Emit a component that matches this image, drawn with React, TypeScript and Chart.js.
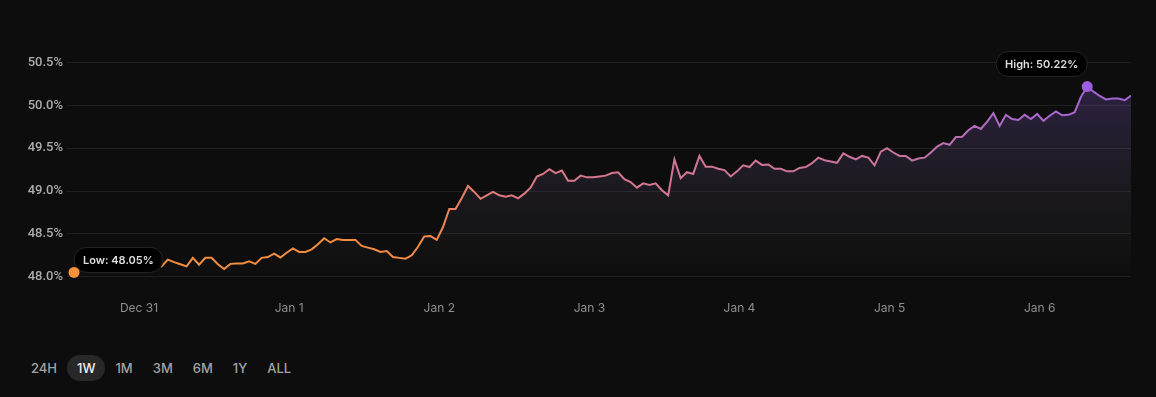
import React, { useEffect, useRef } from "react";
import { Chart, registerables } from "chart.js";

Chart.register(...registerables);

// hours relative to Dec 31 00:00 of the first (hourly) sample
const startHour = -10.4;

// hourly values, %
const values = [
  48.05, 48.09, 48.12, 48.11, 48.14, 48.13, 48.16, 48.12, 48.15, 48.13,
  48.17, 48.14, 48.12, 48.14, 48.12, 48.2, 48.17, 48.145, 48.12, 48.22,
  48.14, 48.22, 48.22, 48.145, 48.09, 48.15, 48.155, 48.155, 48.18, 48.15,
  48.22, 48.23, 48.27, 48.225, 48.28, 48.33, 48.29, 48.29, 48.32, 48.38,
  48.45, 48.4, 48.44, 48.43, 48.43, 48.43, 48.36, 48.34, 48.32, 48.29,
  48.3, 48.23, 48.22, 48.21, 48.25, 48.35, 48.47, 48.475, 48.43, 48.58,
  48.79, 48.79, 48.92, 49.06, 48.99, 48.91, 48.95, 48.99, 48.95, 48.935,
  48.95, 48.915, 48.97, 49.04, 49.17, 49.2, 49.255, 49.21, 49.24, 49.12,
  49.12, 49.18, 49.16, 49.16, 49.17, 49.18, 49.21, 49.22, 49.14, 49.105,
  49.04, 49.09, 49.07, 49.09, 49.01, 48.95, 49.37, 49.15, 49.22, 49.2,
  49.41, 49.285, 49.285, 49.26, 49.245, 49.17, 49.23, 49.3, 49.28, 49.355,
  49.305, 49.31, 49.26, 49.26, 49.23, 49.23, 49.27, 49.28, 49.325, 49.39,
  49.36, 49.345, 49.33, 49.44, 49.4, 49.37, 49.41, 49.39, 49.3, 49.46,
  49.5, 49.45, 49.41, 49.41, 49.355, 49.38, 49.39, 49.45, 49.52, 49.56,
  49.54, 49.63, 49.635, 49.71, 49.76, 49.725, 49.81, 49.91, 49.76, 49.89,
  49.84, 49.83, 49.89, 49.84, 49.9, 49.82, 49.88, 49.93, 49.885, 49.89,
  49.92, 50.1, 50.22, 50.16, 50.11, 50.07, 50.08, 50.08, 50.06, 50.115,
];

const dayTicks = [0, 24, 48, 72, 96, 120, 144];
const dayLabels = ["Dec 31", "Jan 1", "Jan 2", "Jan 3", "Jan 4", "Jan 5", "Jan 6"];
const yTicks = [48.0, 48.5, 49.0, 49.5, 50.0, 50.5];
const ranges = ["24H", "1W", "1M", "3M", "6M", "1Y", "ALL"];
const activeRange = "1W";

const FONT = "Inter, 'Noto Sans', sans-serif";
const YFONT = "Roboto, 'Noto Sans', sans-serif";

const markerPlugin = {
  id: "markers",
  afterDatasetsDraw(chart: any) {
    const ctx = chart.ctx;
    const meta = chart.getDatasetMeta(0);
    let minI = 0;
    let maxI = 0;
    values.forEach((v, i) => {
      if (v < values[minI]) minI = i;
      if (v > values[maxI]) maxI = i;
    });
    const pillFont = `600 11px ${FONT}`;
    const drawPill = (text: string, left: number, top: number, h: number) => {
      ctx.save();
      ctx.font = pillFont;
      const w = ctx.measureText(text).width + 18;
      const r = h / 2;
      ctx.beginPath();
      ctx.moveTo(left + r, top);
      ctx.lineTo(left + w - r, top);
      ctx.arc(left + w - r, top + r, r, -Math.PI / 2, Math.PI / 2);
      ctx.lineTo(left + r, top + h);
      ctx.arc(left + r, top + r, r, Math.PI / 2, (3 * Math.PI) / 2);
      ctx.closePath();
      ctx.fillStyle = "#000000";
      ctx.fill();
      ctx.strokeStyle = "#262626";
      ctx.lineWidth = 1;
      ctx.stroke();
      ctx.fillStyle = "#dedede";
      ctx.textAlign = "center";
      ctx.textBaseline = "middle";
      ctx.fillText(text, left + w / 2, top + h / 2 + 0.5);
      ctx.restore();
      return w;
    };
    const dot = (x: number, y: number, color: string) => {
      ctx.save();
      ctx.beginPath();
      ctx.arc(x, y, 5.5, 0, Math.PI * 2);
      ctx.fillStyle = color;
      ctx.fill();
      ctx.restore();
    };
    const lo = meta.data[minI];
    const hi = meta.data[maxI];
    const loText = `Low: ${values[minI].toFixed(2)}%`;
    const hiText = `High: ${values[maxI].toFixed(2)}%`;
    drawPill(loText, lo.x, lo.y - 25, 25);
    ctx.save();
    ctx.font = pillFont;
    const hw = ctx.measureText(hiText).width + 18;
    ctx.restore();
    drawPill(hiText, hi.x - hw, hi.y - 35, 25);
    dot(lo.x, lo.y, "#f7913a");
    dot(hi.x, hi.y, "#9d5de3");
  },
};

export default function App() {
  const ref = useRef<HTMLCanvasElement | null>(null);

  useEffect(() => {
    document.body.style.margin = "0";
    document.body.style.background = "#0d0d0d";
    const canvas = ref.current;
    if (!canvas) return;
    const points = values.map((v, i) => ({ x: startHour + i, y: v }));
    const chart = new Chart(canvas, {
      type: "line",
      data: {
        datasets: [
          {
            data: points,
            borderWidth: 2,
            pointRadius: 0,
            tension: 0,
            fill: "start",
            borderColor: (c: any) => {
              const { ctx, chartArea } = c.chart;
              if (!chartArea) return "#f5903a";
              const g = ctx.createLinearGradient(chartArea.left, 0, chartArea.right, 0);
              g.addColorStop(0, "#f5903a");
              g.addColorStop(0.33, "#f28a42");
              g.addColorStop(0.4, "#de7b7c");
              g.addColorStop(0.5, "#d6778e");
              g.addColorStop(0.78, "#c9749e");
              g.addColorStop(0.88, "#ae69c8");
              g.addColorStop(1, "#a364d6");
              return g;
            },
            backgroundColor: (c: any) => {
              const { ctx, chartArea } = c.chart;
              if (!chartArea) return "rgba(0,0,0,0)";
              const g = ctx.createLinearGradient(0, chartArea.top, 0, chartArea.bottom);
              g.addColorStop(0, "rgba(150,100,230,0.26)");
              g.addColorStop(0.2, "rgba(150,100,230,0.22)");
              g.addColorStop(0.55, "rgba(140,120,180,0.13)");
              g.addColorStop(0.9, "rgba(130,130,130,0.035)");
              g.addColorStop(1, "rgba(130,130,130,0.0)");
              return g;
            },
          },
        ],
      },
      options: {
        animation: false,
        responsive: false,
        maintainAspectRatio: false,
        layout: { padding: { top: 54, right: 25, bottom: 9, left: 0 } },
        plugins: { legend: { display: false }, tooltip: { enabled: false } },
        scales: {
          x: {
            type: "linear",
            min: startHour - 1.12,
            max: startHour + values.length - 1,
            afterBuildTicks: (s: any) => {
              s.ticks = dayTicks.map((v) => ({ value: v }));
            },
            afterFit: (s: any) => {
              s.height = 40;
            },
            ticks: {
              autoSkip: false,
              maxRotation: 0,
              padding: 20,
              color: "#8e8e8e",
              font: { family: FONT, size: 12, weight: "400" },
              callback: (v: any) => {
                const i = dayTicks.indexOf(Number(v));
                return i >= 0 ? dayLabels[i] : "";
              },
            },
            grid: { display: false, drawTicks: false },
            border: { display: false },
          },
          y: {
            min: 47.95,
            max: 50.6,
            afterBuildTicks: (s: any) => {
              s.ticks = yTicks.map((v) => ({ value: v }));
            },
            afterFit: (s: any) => {
              s.width = 67;
            },
            ticks: {
              padding: 4,
              color: "#ababab",
              font: { family: YFONT, size: 13, weight: "500" },
              callback: (v: any) => `${Number(v).toFixed(1)}%`,
            },
            grid: { color: "#1f1f1f", drawTicks: false, lineWidth: 1 },
            border: { display: false },
          },
        },
      },
      plugins: [markerPlugin],
    } as any);
    return () => chart.destroy();
  }, []);

  return (
    <div
      style={{
        position: "relative",
        width: 1156,
        height: 397,
        background: "#0d0d0d",
        overflow: "hidden",
        fontFamily: FONT,
      }}
    >
      <canvas
        ref={ref}
        width={1156}
        height={330}
        style={{ position: "absolute", left: 0, top: 0, width: 1156, height: 330 }}
      />
      <div
        style={{
          position: "absolute",
          left: 21,
          top: 355,
          display: "flex",
          alignItems: "center",
        }}
      >
        {ranges.map((r) => (
          <div
            key={r}
            style={{
              height: 26,
              lineHeight: "26px",
              padding: "0 10px",
              borderRadius: 13,
              fontSize: 13,
              fontWeight: 500,
              color: r === activeRange ? "#efefef" : "#a3a3a3",
              background: r === activeRange ? "#282828" : "transparent",
            }}
          >
            {r}
          </div>
        ))}
      </div>
    </div>
  );
}
